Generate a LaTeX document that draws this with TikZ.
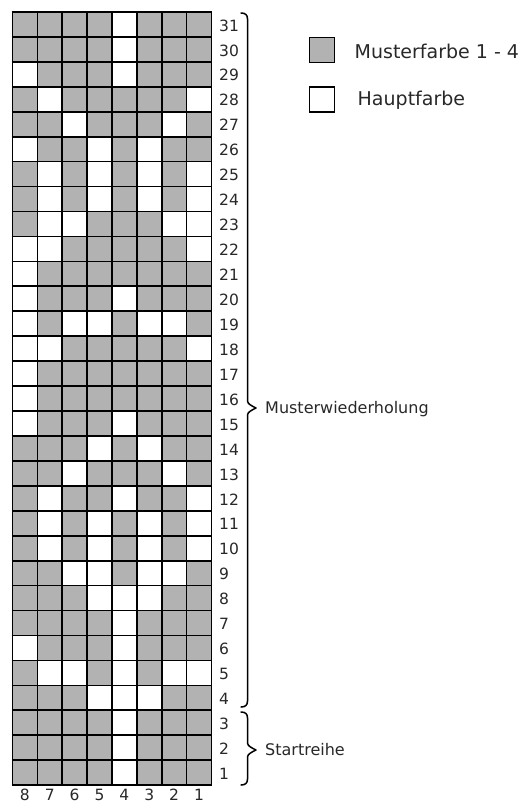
\documentclass[tikz,border=0pt]{standalone}
\usepackage{fontspec}
\setmainfont{DejaVu Sans}
\definecolor{cellgray}{RGB}{178,178,178}
\definecolor{txt}{RGB}{40,40,40}
\begin{document}
\begin{tikzpicture}[x=1pt,y=-1pt,
  gridline/.style={line width=1.7pt,black},
  numlabel/.style={text=txt,font=\fontsize{15.5}{18}\selectfont,inner sep=0pt},
  bracelabel/.style={text=txt,font=\fontsize{16}{19}\selectfont,inner sep=0pt,anchor=west},
  legbox/.style={draw=black,line width=1.6pt,minimum size=25pt,inner sep=0pt},
  legtext/.style={text=txt,font=\fontsize{19}{22}\selectfont,inner sep=0pt,anchor=west},
  bracepath/.style={line width=1.5pt,black,line cap=round,line join=round}]
\useasboundingbox (0,0) rectangle (525,805);
\def\xo{12.5}\def\yo{12}\def\cw{24.86}\def\ch{24.94}
% cells
\foreach \r/\bits in {
31/{1,1,1,1,0,1,1,1},30/{1,1,1,1,0,1,1,1},29/{0,1,1,1,0,1,1,1},28/{1,0,1,1,1,1,1,0},
27/{1,1,0,1,1,1,0,1},26/{0,1,1,0,1,0,1,1},25/{1,0,1,0,1,0,1,0},24/{1,0,1,0,1,0,1,0},
23/{1,0,0,1,1,1,0,0},22/{0,0,1,1,1,1,1,0},21/{0,1,1,1,1,1,1,1},20/{0,1,1,1,0,1,1,1},
19/{0,1,0,0,1,0,0,1},18/{0,0,1,1,1,1,1,0},17/{0,1,1,1,1,1,1,1},16/{0,1,1,1,1,1,1,1},
15/{0,1,1,1,0,1,1,1},14/{1,1,1,0,1,0,1,1},13/{1,1,0,1,1,1,0,1},12/{1,0,1,1,0,1,1,0},
11/{1,0,1,0,1,0,1,0},10/{1,0,1,0,1,0,1,0},9/{1,1,0,0,1,0,0,1},8/{1,1,1,0,0,0,1,1},
7/{1,1,1,1,0,1,1,1},6/{0,1,1,1,0,1,1,1},5/{1,0,0,1,0,1,0,0},4/{1,1,1,0,0,0,1,1},
3/{1,1,1,1,0,1,1,1},2/{1,1,1,1,0,1,1,1},1/{1,1,1,1,0,1,1,1}}{
  \foreach \b [count=\c] in \bits {
    \ifnum\b=1
      \fill[cellgray] ({\xo+(\c-1)*\cw},{\yo+(31-\r)*\ch}) rectangle ++(\cw,\ch);
    \fi
  }
  \node[numlabel,anchor=west] (row\r) at (219,{\yo+(31-\r+0.5)*\ch+1}) {\r};
}
% grid lines
\foreach \i in {0,...,8} \draw[gridline] ({\xo+\i*\cw},\yo) -- ({\xo+\i*\cw},{\yo+31*\ch});
\foreach \j in {0,...,31} \draw[gridline] ({\xo-0.85},{\yo+\j*\ch}) -- ({\xo+8*\cw+0.85},{\yo+\j*\ch});
% column labels
\foreach \c in {1,...,8} {
  \pgfmathtruncatemacro{\lab}{9-\c}
  \node[numlabel,anchor=base] (col\lab) at ({\xo+(\c-0.5)*\cw},800.5) {\lab};
}
% braces
\coordinate (b1top) at (241,13);
\coordinate (b1tip) at (256,408);
\coordinate (b1bot) at (241,707);
\draw[bracepath] (b1top) .. controls (245.5,13) and (247.5,15) .. (247.5,19)
  -- (247.5,401) .. controls (247.5,404) and (252,406) .. (b1tip)
  .. controls (252,410) and (247.5,412) .. (247.5,415)
  -- (247.5,701) .. controls (247.5,705) and (245.5,707) .. (b1bot);
\coordinate (b2top) at (241,712);
\coordinate (b2tip) at (256,750);
\coordinate (b2bot) at (241,785);
\draw[bracepath] (b2top) .. controls (245.5,712) and (247.5,714) .. (247.5,718)
  -- (247.5,743) .. controls (247.5,746) and (252,748) .. (b2tip)
  .. controls (252,752) and (247.5,754) .. (247.5,757)
  -- (247.5,779) .. controls (247.5,783) and (245.5,785) .. (b2bot);
\node[bracelabel] (wdh) at (265,409) {Musterwiederholung};
\node[bracelabel] (start) at (265,750) {Startreihe};
% legend
\node[legbox,fill=cellgray] (lg1) at (322,50) {};
\node[legtext] (lt1) at (354.5,51) {Musterfarbe 1 - 4};
\node[legbox,fill=white] (lg2) at (322,99.5) {};
\node[legtext] (lt2) at (357.5,100) {Hauptfarbe};
\end{tikzpicture}
\end{document}
